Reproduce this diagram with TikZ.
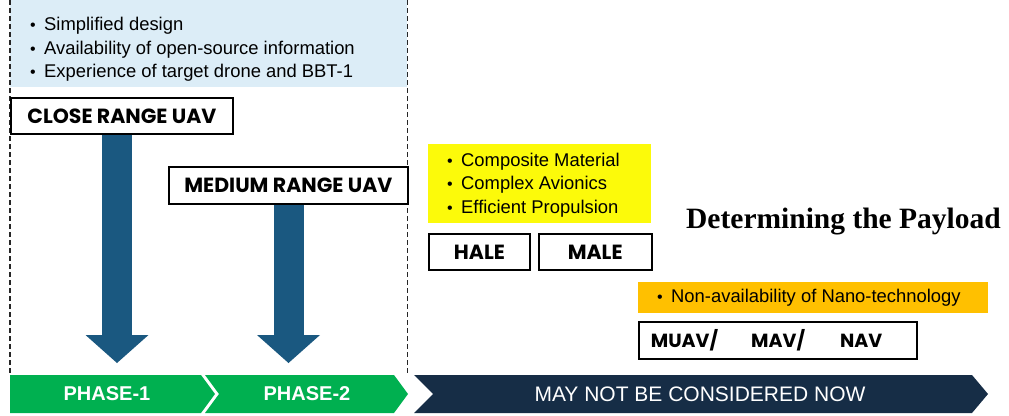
\documentclass[tikz,border=0pt]{standalone}
\usepackage{fontspec}
\setmainfont{Liberation Sans}
\newfontfamily\boxfont{Poppins}
\newfontfamily\titlefont{Liberation Serif}
\usepackage{tikz}
\usetikzlibrary{shapes,arrows.meta,positioning}

\definecolor{infoblue}{RGB}{220,237,247}
\definecolor{techyellow}{RGB}{252,250,10}
\definecolor{nanoorange}{RGB}{255,192,0}
\definecolor{phasegreen}{RGB}{0,176,80}
\definecolor{laternavy}{RGB}{22,45,70}
\definecolor{arrowblue}{RGB}{26,88,128}

\newcommand{\bul}{\makebox[14pt][l]{\fontsize{16}{16}\selectfont\textbullet}}

\begin{document}
\begin{tikzpicture}[x=1pt,y=-1pt]
			\tikzstyle{Box}		= [draw=black, line width=1.8pt, fill=white, inner sep=0pt, font=\boxfont\bfseries\fontsize{20.5}{24}\selectfont]
			\tikzstyle{Panel}	= [anchor=north west, inner sep=0pt]
			\tikzstyle{List}	= [anchor=west, inner sep=0pt, align=left, font=\fontsize{18.4}{23.5}\selectfont]
			\tikzstyle{Down}	= [draw=arrowblue, line width=30pt, -{Triangle[width=63pt,length=28pt,line width=0pt]}]
			\tikzstyle{PhaseText}	= [text=white, inner sep=0pt, font=\bfseries\fontsize{20}{24}\selectfont]
			\tikzstyle{Frame}	= [draw=black!85, line width=1.8pt, dash pattern=on 5pt off 3pt]

			\useasboundingbox (0,0) rectangle (1009,415);

			\node (info) at (10,0) [Panel][fill=infoblue, minimum width=397pt, minimum height=87pt] {};
			\node (pros) at (30,49.5) [List] {\bul Simplified design\\ \bul Availability of open-source information\\ \bul Experience of target drone and BBT-1};

			% phase bar along the bottom
			\fill [phasegreen] (10,375) -- (201,375) -- (215,394) -- (201,413) -- (10,413) -- cycle;
			\fill [phasegreen] (205,375) -- (394,375) -- (408,394) -- (394,413) -- (205,413) -- (219,394) -- cycle;
			\fill [laternavy] (414,375) -- (972,375) -- (988,394) -- (972,413) -- (414,413) -- (433,394) -- cycle;
			\node (ph1) at (107,394) [PhaseText] {PHASE-1};
			\node (ph2) at (307,394) [PhaseText] {PHASE-2};
			\node (later) at (700,394) [PhaseText][font=\fontsize{21}{24}\selectfont] {MAY NOT BE CONSIDERED NOW};

			\draw [Frame] (info.north west) -- (info.north west |- 0,375);
			\draw [Frame] (info.north east) -- (info.north east |- 0,375);

			\node (close) at (10,97) [Box][anchor=north west, minimum width=222pt, minimum height=36pt] {CLOSE RANGE UAV};
			\node (medium) at (168,166) [Box][anchor=north west, minimum width=239pt, minimum height=37pt] {MEDIUM RANGE UAV};

			\coordinate (t1) at (117,363);
			\coordinate (t2) at (288.5,363);
			\draw [Down] (close.south -| t1) -- (t1);
			\draw [Down] (medium.south -| t2) -- (t2);

			\node (techbg) at (428,144) [Panel][fill=techyellow, minimum width=223pt, minimum height=79pt] {};
			\node (tech) at (447,185) [List] {\bul Composite Material\\ \bul Complex Avionics\\ \bul Efficient Propulsion};
			\node (hale) at (428,233) [Box][anchor=north west, minimum width=101pt, minimum height=36pt] {HALE};
			\node (male) [Box][right=7pt of hale, minimum width=113pt, minimum height=36pt] {MALE};

			\node (title) at (843.5,228) [anchor=base, font=\titlefont\bfseries\fontsize{29.5}{34}\selectfont] {Determining the Payload};

			\node (nanobg) at (638,282) [Panel][fill=nanoorange, minimum width=350pt, minimum height=31pt] {};
			\node (nano) at (657,298) [List] {\bul Non-availability of Nano-technology};
			\node (micro) at (638,321) [Box][anchor=north west, text width=254pt, inner xsep=12pt, align=left, minimum height=37pt, font=\boxfont\bfseries\fontsize{19}{23}\selectfont] {MUAV/\hspace*{33pt}MAV/\hspace*{35pt}NAV};
		\end{tikzpicture}
\end{document}
